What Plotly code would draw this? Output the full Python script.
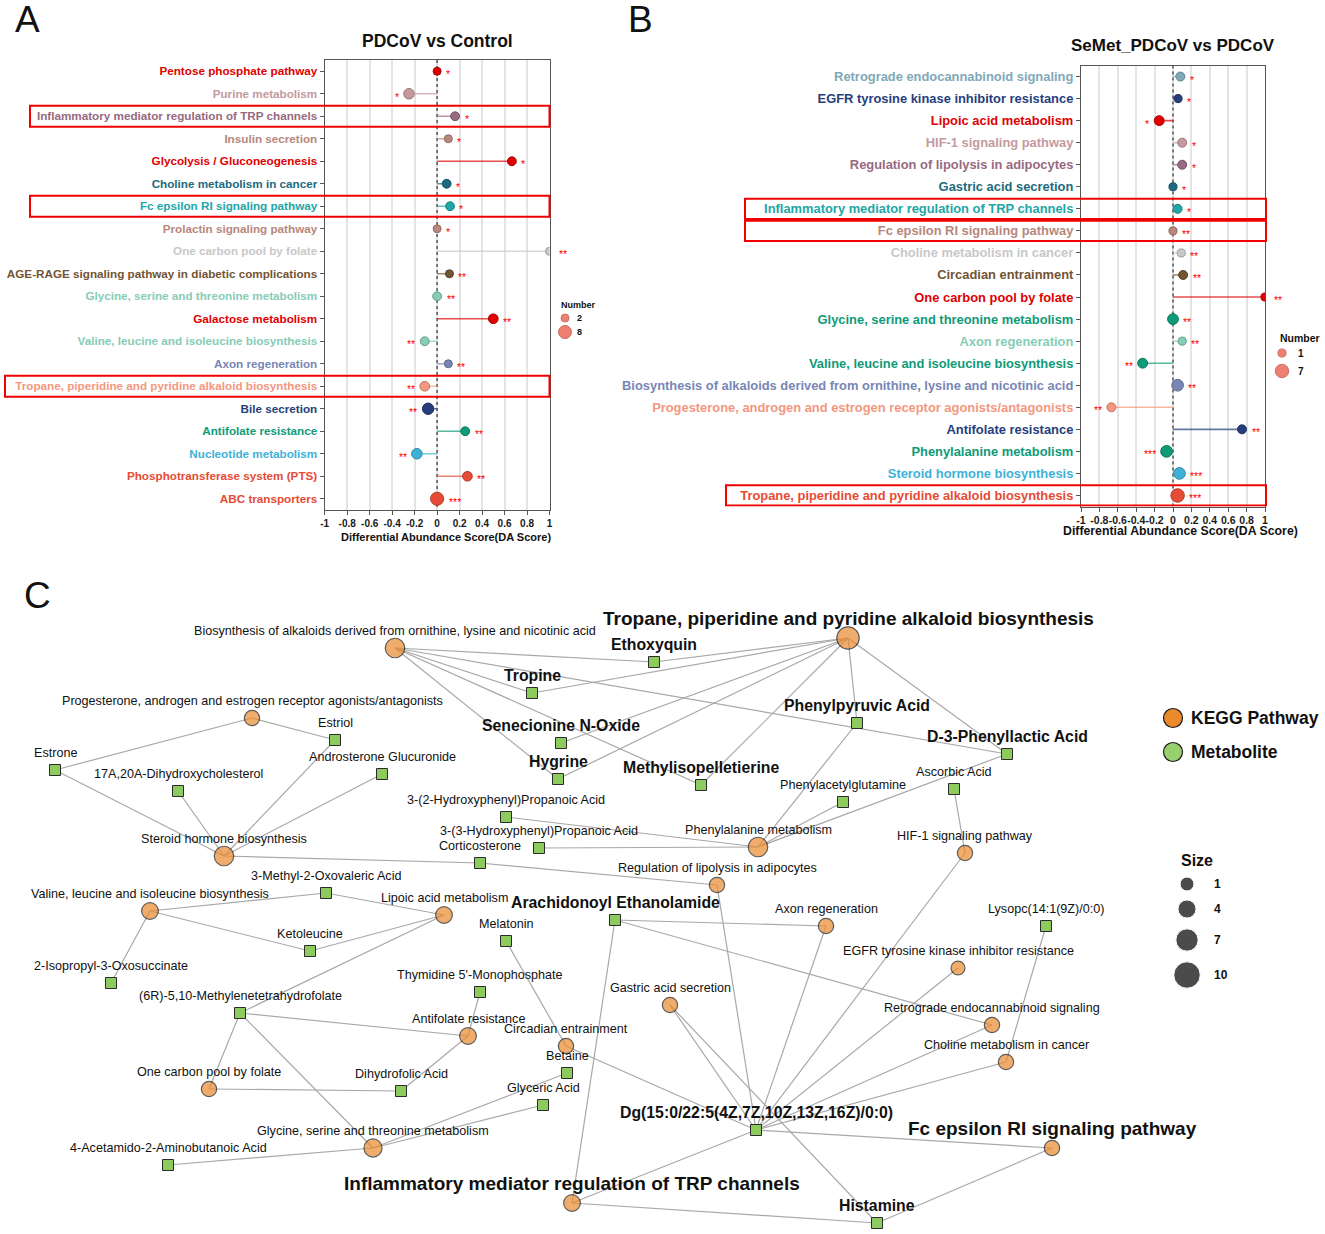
import plotly.graph_objects as go

W, H = 1325, 1234
FONT = "Liberation Sans, Arial, Helvetica, sans-serif"

# ---------------- Panel A : PDCoV vs Control ----------------
A_PATHWAYS = [
    "Pentose phosphate pathway", "Purine metabolism",
    "Inflammatory mediator regulation of TRP channels", "Insulin secretion",
    "Glycolysis / Gluconeogenesis", "Choline metabolism in cancer",
    "Fc epsilon RI signaling pathway", "Prolactin signaling pathway",
    "One carbon pool by folate", "AGE-RAGE signaling pathway in diabetic complications",
    "Glycine, serine and threonine metabolism", "Galactose metabolism",
    "Valine, leucine and isoleucine biosynthesis", "Axon regeneration",
    "Tropane, piperidine and pyridine alkaloid biosynthesis", "Bile secretion",
    "Antifolate resistance", "Nucleotide metabolism",
    "Phosphotransferase system (PTS)", "ABC transporters",
]
A_DA_SCORE = [0.0, -0.25, 0.16, 0.10, 0.665, 0.085, 0.115, 0.0, 1.0, 0.11,
              0.0, 0.50, -0.11, 0.10, -0.11, -0.08, 0.25, -0.18, 0.27, 0.0]
A_NUMBER = [2, 5, 3, 2, 3, 3, 3, 2, 2, 2, 3, 4, 3, 2, 4, 6, 3, 5, 4, 8]
A_SIGNIF = ["*", "*", "*", "*", "*", "*", "*", "*", "**", "**",
            "**", "**", "**", "**", "**", "**", "**", "**", "**", "***"]
A_HIGHLIGHT = ["Inflammatory mediator regulation of TRP channels",
               "Fc epsilon RI signaling pathway",
               "Tropane, piperidine and pyridine alkaloid biosynthesis"]
A_NUMBER_LEGEND = [2, 8]

# ---------------- Panel B : SeMet_PDCoV vs PDCoV ----------------
B_PATHWAYS = [
    "Retrograde endocannabinoid signaling", "EGFR tyrosine kinase inhibitor resistance",
    "Lipoic acid metabolism", "HIF-1 signaling pathway",
    "Regulation of lipolysis in adipocytes", "Gastric acid secretion",
    "Inflammatory mediator regulation of TRP channels", "Fc epsilon RI signaling pathway",
    "Choline metabolism in cancer", "Circadian entrainment",
    "One carbon pool by folate", "Glycine, serine and threonine metabolism",
    "Axon regeneration", "Valine, leucine and isoleucine biosynthesis",
    "Biosynthesis of alkaloids derived from ornithine, lysine and nicotinic acid",
    "Progesterone, androgen and estrogen receptor agonists/antagonists",
    "Antifolate resistance", "Phenylalanine metabolism",
    "Steroid hormone biosynthesis",
    "Tropane, piperidine and pyridine alkaloid biosynthesis",
]
B_DA_SCORE = [0.08, 0.055, -0.15, 0.10, 0.10, 0.0, 0.05, 0.0, 0.09, 0.11,
              1.0, 0.0, 0.10, -0.33, 0.05, -0.67, 0.75, -0.07, 0.07, 0.05]
B_NUMBER = [2, 1, 3, 2, 2, 1, 2, 1, 1, 2, 1, 4, 1, 3, 5, 2, 2, 5, 5, 7]
B_SIGNIF = ["*", "*", "*", "*", "*", "*", "*", "**", "**", "**",
            "**", "**", "**", "**", "**", "**", "**", "***", "***", "***"]
B_HIGHLIGHT = ["Inflammatory mediator regulation of TRP channels",
               "Fc epsilon RI signaling pathway",
               "Tropane, piperidine and pyridine alkaloid biosynthesis"]
B_NUMBER_LEGEND = [1, 7]

DA_TICKS = [-1, -0.8, -0.6, -0.4, -0.2, 0, 0.2, 0.4, 0.6, 0.8, 1]
DA_TICKTEXT = ["-1", "-0.8", "-0.6", "-0.4", "-0.2", "0", "0.2", "0.4", "0.6", "0.8", "1"]

# ---------------- Panel C : network ----------------
PATHWAY_NODES = [
    "Tropane, piperidine and pyridine alkaloid biosynthesis",
    "Biosynthesis of alkaloids derived from ornithine, lysine and nicotinic acid",
    "Progesterone, androgen and estrogen receptor agonists/antagonists",
    "Steroid hormone biosynthesis", "Phenylalanine metabolism",
    "Regulation of lipolysis in adipocytes", "HIF-1 signaling pathway",
    "Valine, leucine and isoleucine biosynthesis", "Lipoic acid metabolism",
    "Antifolate resistance", "One carbon pool by folate",
    "Glycine, serine and threonine metabolism", "Circadian entrainment",
    "Axon regeneration", "EGFR tyrosine kinase inhibitor resistance",
    "Gastric acid secretion", "Retrograde endocannabinoid signaling",
    "Choline metabolism in cancer", "Fc epsilon RI signaling pathway",
    "Inflammatory mediator regulation of TRP channels",
]
PATHWAY_X = [848, 395, 252, 224, 758, 717, 965, 150, 444, 468, 209, 373, 566,
             826, 958, 670, 992, 1006, 1052, 572]
PATHWAY_Y = [638, 648, 718, 856, 847, 885, 853, 911, 915, 1036, 1089, 1148, 1046,
             926, 968, 1005, 1025, 1062, 1148, 1203]
PATHWAY_SIZE = [7, 5, 2, 5, 5, 2, 2, 3, 3, 3, 2, 4, 2, 2, 1, 2, 2, 2, 2, 3]

METABOLITE_NODES = [
    "Ethoxyquin", "Tropine", "Phenylpyruvic Acid", "Senecionine N-Oxide", "Hygrine",
    "Methylisopelletierine", "D-3-Phenyllactic Acid", "Estriol", "Estrone",
    "17A,20A-Dihydroxycholesterol", "Androsterone Glucuronide", "Ascorbic Acid",
    "Phenylacetylglutamine", "3-(2-Hydroxyphenyl)Propanoic Acid",
    "3-(3-Hydroxyphenyl)Propanoic Acid", "Corticosterone", "3-Methyl-2-Oxovaleric Acid",
    "Arachidonoyl Ethanolamide", "Ketoleucine", "Melatonin", "Lysopc(14:1(9Z)/0:0)",
    "2-Isopropyl-3-Oxosuccinate", "Thymidine 5'-Monophosphate",
    "(6R)-5,10-Methylenetetrahydrofolate", "Betaine", "Dihydrofolic Acid",
    "Glyceric Acid", "Dg(15:0/22:5(4Z,7Z,10Z,13Z,16Z)/0:0)",
    "4-Acetamido-2-Aminobutanoic Acid", "Histamine",
]
METABOLITE_X = [654, 532, 857, 561, 558, 701, 1007, 335, 55, 178, 382, 954, 843, 506,
                539, 480, 326, 615, 310, 506, 1046, 111, 480, 240, 567, 401, 543, 756,
                168, 877]
METABOLITE_Y = [662, 693, 723, 743, 779, 785, 754, 740, 770, 791, 774, 789, 802, 817,
                848, 863, 893, 920, 951, 941, 926, 983, 992, 1013, 1073, 1091, 1105, 1130,
                1165, 1223]

P = PATHWAY_NODES
DG = "Dg(15:0/22:5(4Z,7Z,10Z,13Z,16Z)/0:0)"
EDGES = [
    (P[1], "Ethoxyquin"), (P[1], "Tropine"), (P[1], "Hygrine"),
    (P[1], "Methylisopelletierine"), (P[1], "D-3-Phenyllactic Acid"),
    (P[0], "Ethoxyquin"), (P[0], "Tropine"), (P[0], "Senecionine N-Oxide"),
    (P[0], "Hygrine"), (P[0], "Methylisopelletierine"), (P[0], "Phenylpyruvic Acid"),
    (P[0], "D-3-Phenyllactic Acid"),
    (P[2], "Estrone"), (P[2], "Estriol"),
    (P[3], "Estrone"), (P[3], "17A,20A-Dihydroxycholesterol"), (P[3], "Estriol"),
    (P[3], "Androsterone Glucuronide"), (P[3], "Corticosterone"),
    (P[4], "3-(2-Hydroxyphenyl)Propanoic Acid"), (P[4], "3-(3-Hydroxyphenyl)Propanoic Acid"),
    (P[4], "Phenylpyruvic Acid"), (P[4], "Phenylacetylglutamine"),
    (P[4], "D-3-Phenyllactic Acid"),
    (P[5], "Corticosterone"), (P[5], DG),
    (P[6], "Ascorbic Acid"), (P[6], DG),
    (P[7], "3-Methyl-2-Oxovaleric Acid"), (P[7], "Ketoleucine"),
    (P[7], "2-Isopropyl-3-Oxosuccinate"),
    (P[8], "3-Methyl-2-Oxovaleric Acid"), (P[8], "Ketoleucine"),
    (P[8], "(6R)-5,10-Methylenetetrahydrofolate"),
    (P[9], "(6R)-5,10-Methylenetetrahydrofolate"), (P[9], "Thymidine 5'-Monophosphate"),
    (P[9], "Dihydrofolic Acid"),
    (P[10], "(6R)-5,10-Methylenetetrahydrofolate"), (P[10], "Dihydrofolic Acid"),
    (P[11], "(6R)-5,10-Methylenetetrahydrofolate"), (P[11], "Betaine"),
    (P[11], "Glyceric Acid"), (P[11], "4-Acetamido-2-Aminobutanoic Acid"),
    (P[12], "Melatonin"), (P[12], DG),
    (P[13], "Arachidonoyl Ethanolamide"), (P[13], DG),
    (P[14], DG),
    (P[15], DG), (P[15], "Histamine"),
    (P[16], "Arachidonoyl Ethanolamide"), (P[16], DG),
    (P[17], DG), (P[17], "Lysopc(14:1(9Z)/0:0)"),
    (P[18], DG), (P[18], "Histamine"),
    (P[19], "Arachidonoyl Ethanolamide"), (P[19], DG), (P[19], "Histamine"),
]
SIZE_LEGEND = [1, 4, 7, 10]

# ---------------- styles ----------------
RED = "#E00000"; ROSE = "#C49A9E"; MAUVE = "#976A80"; TAN = "#B8877E"
DTEAL = "#1D6A7E"; TEAL = "#22A6A6"; GREY = "#C8C8C8"; BROWN = "#735434"
MINT = "#86CDB6"; SLATE = "#7886B6"; SALMON = "#F3977E"; NAVY = "#273E7C"
GREEN = "#0F9A78"; CYAN = "#3EB2D6"; ORED = "#E64B35"; LSTEEL = "#7FA8B8"

A_COLORS = [RED, ROSE, MAUVE, TAN, RED, DTEAL, TEAL, TAN, GREY, BROWN,
            MINT, RED, MINT, SLATE, SALMON, NAVY, GREEN, CYAN, ORED, ORED]
B_COLORS = [LSTEEL, NAVY, RED, ROSE, MAUVE, DTEAL, TEAL, TAN, GREY, BROWN,
            RED, GREEN, MINT, GREEN, SLATE, SALMON, NAVY, GREEN, CYAN, ORED]
A_BOX_LEFT = {A_HIGHLIGHT[0]: 30, A_HIGHLIGHT[1]: 30, A_HIGHLIGHT[2]: 5}
B_BOX_LEFT = {B_HIGHLIGHT[0]: 745, B_HIGHLIGHT[1]: 745, B_HIGHLIGHT[2]: 726}

ORANGE = "#EB8A2C"; LGREEN = "#8DCB5F"; EDGE = "#A8A8A8"
BIG_BOLD = {P[0], P[18], P[19]}
MID_BOLD = {"Ethoxyquin", "Tropine", "Phenylpyruvic Acid", "Senecionine N-Oxide", "Hygrine",
            "Methylisopelletierine", "D-3-Phenyllactic Acid", "Arachidonoyl Ethanolamide",
            "Histamine"}
DG_BOLD = {DG}


def dA(n):
    return 6.3 + 0.85 * n


def dB(n):
    return 7.2 + 0.9 * n


def dC(n):
    return 12.5 + 1.4 * n


def rgba(h, a):
    h = h.lstrip("#")
    return f"rgba({int(h[0:2], 16)},{int(h[2:4], 16)},{int(h[4:6], 16)},{a})"


def darker(h, f=0.78):
    h = h.lstrip("#")
    r, g, b = (int(int(h[i:i + 2], 16) * f) for i in (0, 2, 4))
    return f"rgb({r},{g},{b})"


fig = go.Figure()


def add_lollipop(names, scores, numbers, signif, colors, xa, ya, diam):
    idx = list(range(len(names)))
    # dotted zero line
    fig.add_trace(go.Scatter(x=[0, 0], y=[-0.5, len(names) - 0.5], xaxis=xa, yaxis=ya,
                             mode="lines", line=dict(color="#555555", width=1.5, dash="dot"),
                             hoverinfo="skip", showlegend=False))
    for i, s, c in zip(idx, scores, colors):
        fig.add_trace(go.Scatter(x=[0, s], y=[i, i], xaxis=xa, yaxis=ya, mode="lines",
                                 line=dict(color=rgba(c, 0.7), width=1.6),
                                 hoverinfo="skip", showlegend=False))
    fig.add_trace(go.Scatter(
        x=scores, y=idx, xaxis=xa, yaxis=ya, mode="markers", showlegend=False,
        marker=dict(size=[diam(n) for n in numbers], color=colors, opacity=1,
                    line=dict(color=[darker(c) for c in colors], width=1)),
        text=names, hoverinfo="text+x"))
    for i, s, n, t in zip(idx, scores, numbers, signif):
        r = diam(n) / 2
        pos = s >= 0
        fig.add_annotation(xref=xa, yref=ya, x=s, y=i, text=t, showarrow=False,
                           xanchor="left" if pos else "right",
                           xshift=(r + 3) if pos else -(r + 3), yshift=-3,
                           font=dict(family=FONT, size=10.5, color="#FF0000"))


add_lollipop(A_PATHWAYS, A_DA_SCORE, A_NUMBER, A_SIGNIF, A_COLORS, "x", "y", dA)
add_lollipop(B_PATHWAYS, B_DA_SCORE, B_NUMBER, B_SIGNIF, B_COLORS, "x2", "y2", dB)

# ---------------- network (panel C) on a full-figure pixel axis ----------------
pos = {n: (x, y) for n, x, y in zip(PATHWAY_NODES, PATHWAY_X, PATHWAY_Y)}
pos.update({n: (x, y) for n, x, y in zip(METABOLITE_NODES, METABOLITE_X, METABOLITE_Y)})
ex, ey = [], []
for a, b in EDGES:
    ex += [pos[a][0], pos[b][0], None]
    ey += [pos[a][1], pos[b][1], None]
fig.add_trace(go.Scatter(x=ex, y=ey, xaxis="x3", yaxis="y3", mode="lines",
                         line=dict(color=EDGE, width=1.2), hoverinfo="skip", showlegend=False))
fig.add_trace(go.Scatter(x=METABOLITE_X, y=METABOLITE_Y, xaxis="x3", yaxis="y3", mode="markers",
                         marker=dict(symbol="square", size=11, color=LGREEN,
                                     line=dict(color="#2B2B2B", width=1)),
                         text=METABOLITE_NODES, hoverinfo="text", showlegend=False))
fig.add_trace(go.Scatter(x=PATHWAY_X, y=PATHWAY_Y, xaxis="x3", yaxis="y3", mode="markers",
                         marker=dict(symbol="circle", size=[dC(s) for s in PATHWAY_SIZE],
                                     color=ORANGE, line=dict(color="#1A1A1A", width=1.2)),
                         text=PATHWAY_NODES, hoverinfo="text", showlegend=False))

for name, (x, y) in pos.items():
    if name in BIG_BOLD:
        f = dict(size=19, weight="bold"); sh = 20
    elif name in MID_BOLD:
        f = dict(size=15.8, weight="bold"); sh = 18
    elif name in DG_BOLD:
        f = dict(size=15.8, weight="bold"); sh = 18
    else:
        f = dict(size=12.6); sh = 17.5
    fig.add_annotation(xref="x3", yref="y3", x=x, y=y, text=name, showarrow=False,
                       xanchor="center", yanchor="middle", yshift=sh,
                       font=dict(family=FONT, color="#111111", **f))

# network legends
fig.add_trace(go.Scatter(x=[1173, 1173], y=[718, 752], xaxis="x3", yaxis="y3", mode="markers",
                         marker=dict(size=19, color=[ORANGE, "#98D06E"],
                                     line=dict(color="#1A1A1A", width=1.2)),
                         hoverinfo="skip", showlegend=False))
for t, yy in [("KEGG Pathway", 718), ("Metabolite", 752)]:
    fig.add_annotation(xref="x3", yref="y3", x=1189, y=yy, text=t, showarrow=False,
                       xanchor="left", font=dict(family=FONT, size=17.5, weight="bold", color="#111"))
fig.add_annotation(xref="x3", yref="y3", x=1197, y=860, text="Size", showarrow=False,
                   font=dict(family=FONT, size=16, weight="bold", color="#111"))
SIZE_LEG_Y = [884, 909, 940, 975]
fig.add_trace(go.Scatter(x=[1187] * len(SIZE_LEGEND), y=SIZE_LEG_Y, xaxis="x3", yaxis="y3",
                         mode="markers", marker=dict(size=[dC(s) for s in SIZE_LEGEND], color="black"),
                         hoverinfo="skip", showlegend=False))
for s, yy in zip(SIZE_LEGEND, SIZE_LEG_Y):
    fig.add_annotation(xref="x3", yref="y3", x=1212, y=yy, text=str(s), showarrow=False,
                       xanchor="left", font=dict(family=FONT, size=12, weight="bold", color="#111"))

# "Number" legends for A and B
fig.add_trace(go.Scatter(x=[565, 565], y=[318, 332], xaxis="x3", yaxis="y3", mode="markers",
                         marker=dict(size=[dA(n) for n in A_NUMBER_LEGEND], color=ORED,
                                     line=dict(color=darker(ORED), width=1)),
                         hoverinfo="skip", showlegend=False))
fig.add_trace(go.Scatter(x=[1282, 1282], y=[353, 371], xaxis="x3", yaxis="y3", mode="markers",
                         marker=dict(size=[dB(n) for n in B_NUMBER_LEGEND], color=ORED,
                                     line=dict(color=darker(ORED), width=1)),
                         hoverinfo="skip", showlegend=False))
fig.add_annotation(xref="x3", yref="y3", x=578, y=305, text="Number", showarrow=False,
                   font=dict(family=FONT, size=9, weight="bold", color="#111"))
fig.add_annotation(xref="x3", yref="y3", x=1300, y=338, text="Number", showarrow=False,
                   font=dict(family=FONT, size=10.5, weight="bold", color="#111"))
for n, yy in zip(A_NUMBER_LEGEND, [318, 332]):
    fig.add_annotation(xref="x3", yref="y3", x=575, y=yy, text=str(n), showarrow=False,
                       xanchor="left", font=dict(family=FONT, size=9, weight="bold", color="#111"))
for n, yy in zip(B_NUMBER_LEGEND, [353, 371]):
    fig.add_annotation(xref="x3", yref="y3", x=1296, y=yy, text=str(n), showarrow=False,
                       xanchor="left", font=dict(family=FONT, size=10, weight="bold", color="#111"))

# titles, axis titles, panel letters
fig.add_annotation(xref="x3", yref="y3", x=437, y=41, text="PDCoV vs Control", showarrow=False,
                   font=dict(family=FONT, size=17.5, weight="bold", color="#111"))
fig.add_annotation(xref="x3", yref="y3", x=1173, y=45, text="SeMet_PDCoV vs PDCoV", showarrow=False,
                   font=dict(family=FONT, size=17, weight="bold", color="#111"))
fig.add_annotation(xref="x3", yref="y3", x=446, y=537, text="Differential Abundance Score(DA Score)",
                   showarrow=False, font=dict(family=FONT, size=11, weight="bold", color="#111"))
fig.add_annotation(xref="x3", yref="y3", x=1180, y=531, text="Differential Abundance Score(DA Score)",
                   showarrow=False, font=dict(family=FONT, size=12.3, weight="bold", color="#111"))
for t, x, y in [("A", 27, 19), ("B", 640, 19), ("C", 37, 595)]:
    fig.add_annotation(xref="x3", yref="y3", x=x, y=y, text=t, showarrow=False,
                       font=dict(family=FONT, size=37, color="#111"))

# red highlight boxes
for names, left, right, half, ya in [(A_PATHWAYS, A_BOX_LEFT, 549.5, 0.47, "y"),
                                     (B_PATHWAYS, B_BOX_LEFT, 1266, 0.46, "y2")]:
    for name, x0 in left.items():
        i = names.index(name)
        fig.add_shape(type="rect", xref="paper", yref=ya, x0=x0 / W, x1=right / W,
                      y0=i - half, y1=i + half, line=dict(color="#F00000", width=2),
                      fillcolor="rgba(0,0,0,0)", layer="above")


def xaxis_cfg(dom, fs, anchor):
    return dict(domain=dom, anchor=anchor, range=[-1, 1], tickvals=DA_TICKS, ticktext=DA_TICKTEXT,
                tickangle=0, showgrid=True, gridcolor="#E4E4E4", gridwidth=1.6, zeroline=False,
                showline=True, mirror=True, linecolor="#555555", linewidth=1.2,
                ticks="outside", ticklen=4, tickwidth=1, tickcolor="#555555",
                tickfont=dict(family=FONT, size=fs, color="#1A1A1A", weight="bold"),
                fixedrange=True)


def yaxis_cfg(dom, names, colors, fs, anchor):
    return dict(domain=dom, anchor=anchor, range=[len(names) - 0.5, -0.5],
                tickvals=list(range(len(names))),
                ticktext=[f'<span style="color:{c}">{n}</span>' for n, c in zip(names, colors)],
                showgrid=False, zeroline=False, showline=True, mirror=True,
                linecolor="#555555", linewidth=1.2, ticks="outside", ticklen=4,
                tickwidth=1, tickcolor="#555555",
                tickfont=dict(family=FONT, size=fs, weight="bold"), fixedrange=True)


fig.update_layout(
    width=W, height=H, margin=dict(l=0, r=0, t=0, b=0, autoexpand=False),
    paper_bgcolor="white", plot_bgcolor="rgba(0,0,0,0)", showlegend=False,
    font=dict(family=FONT),
    xaxis=xaxis_cfg([324.7 / W, 549.5 / W], 10, "y"),
    yaxis=yaxis_cfg([1 - 510 / H, 1 - 60 / H], A_PATHWAYS, A_COLORS, 11.7, "x"),
    xaxis2=xaxis_cfg([1081 / W, 1265 / W], 10.5, "y2"),
    yaxis2=yaxis_cfg([1 - 506.5 / H, 1 - 65.5 / H], B_PATHWAYS, B_COLORS, 12.9, "x2"),
    xaxis3=dict(domain=[0, 1], anchor="y3", range=[0, W], visible=False, fixedrange=True),
    yaxis3=dict(domain=[0, 1], anchor="x3", range=[H, 0], visible=False, fixedrange=True),
)

fig.write_html("out.html", config={"displayModeBar": False},
               post_script="document.body.style.margin='0px';")
